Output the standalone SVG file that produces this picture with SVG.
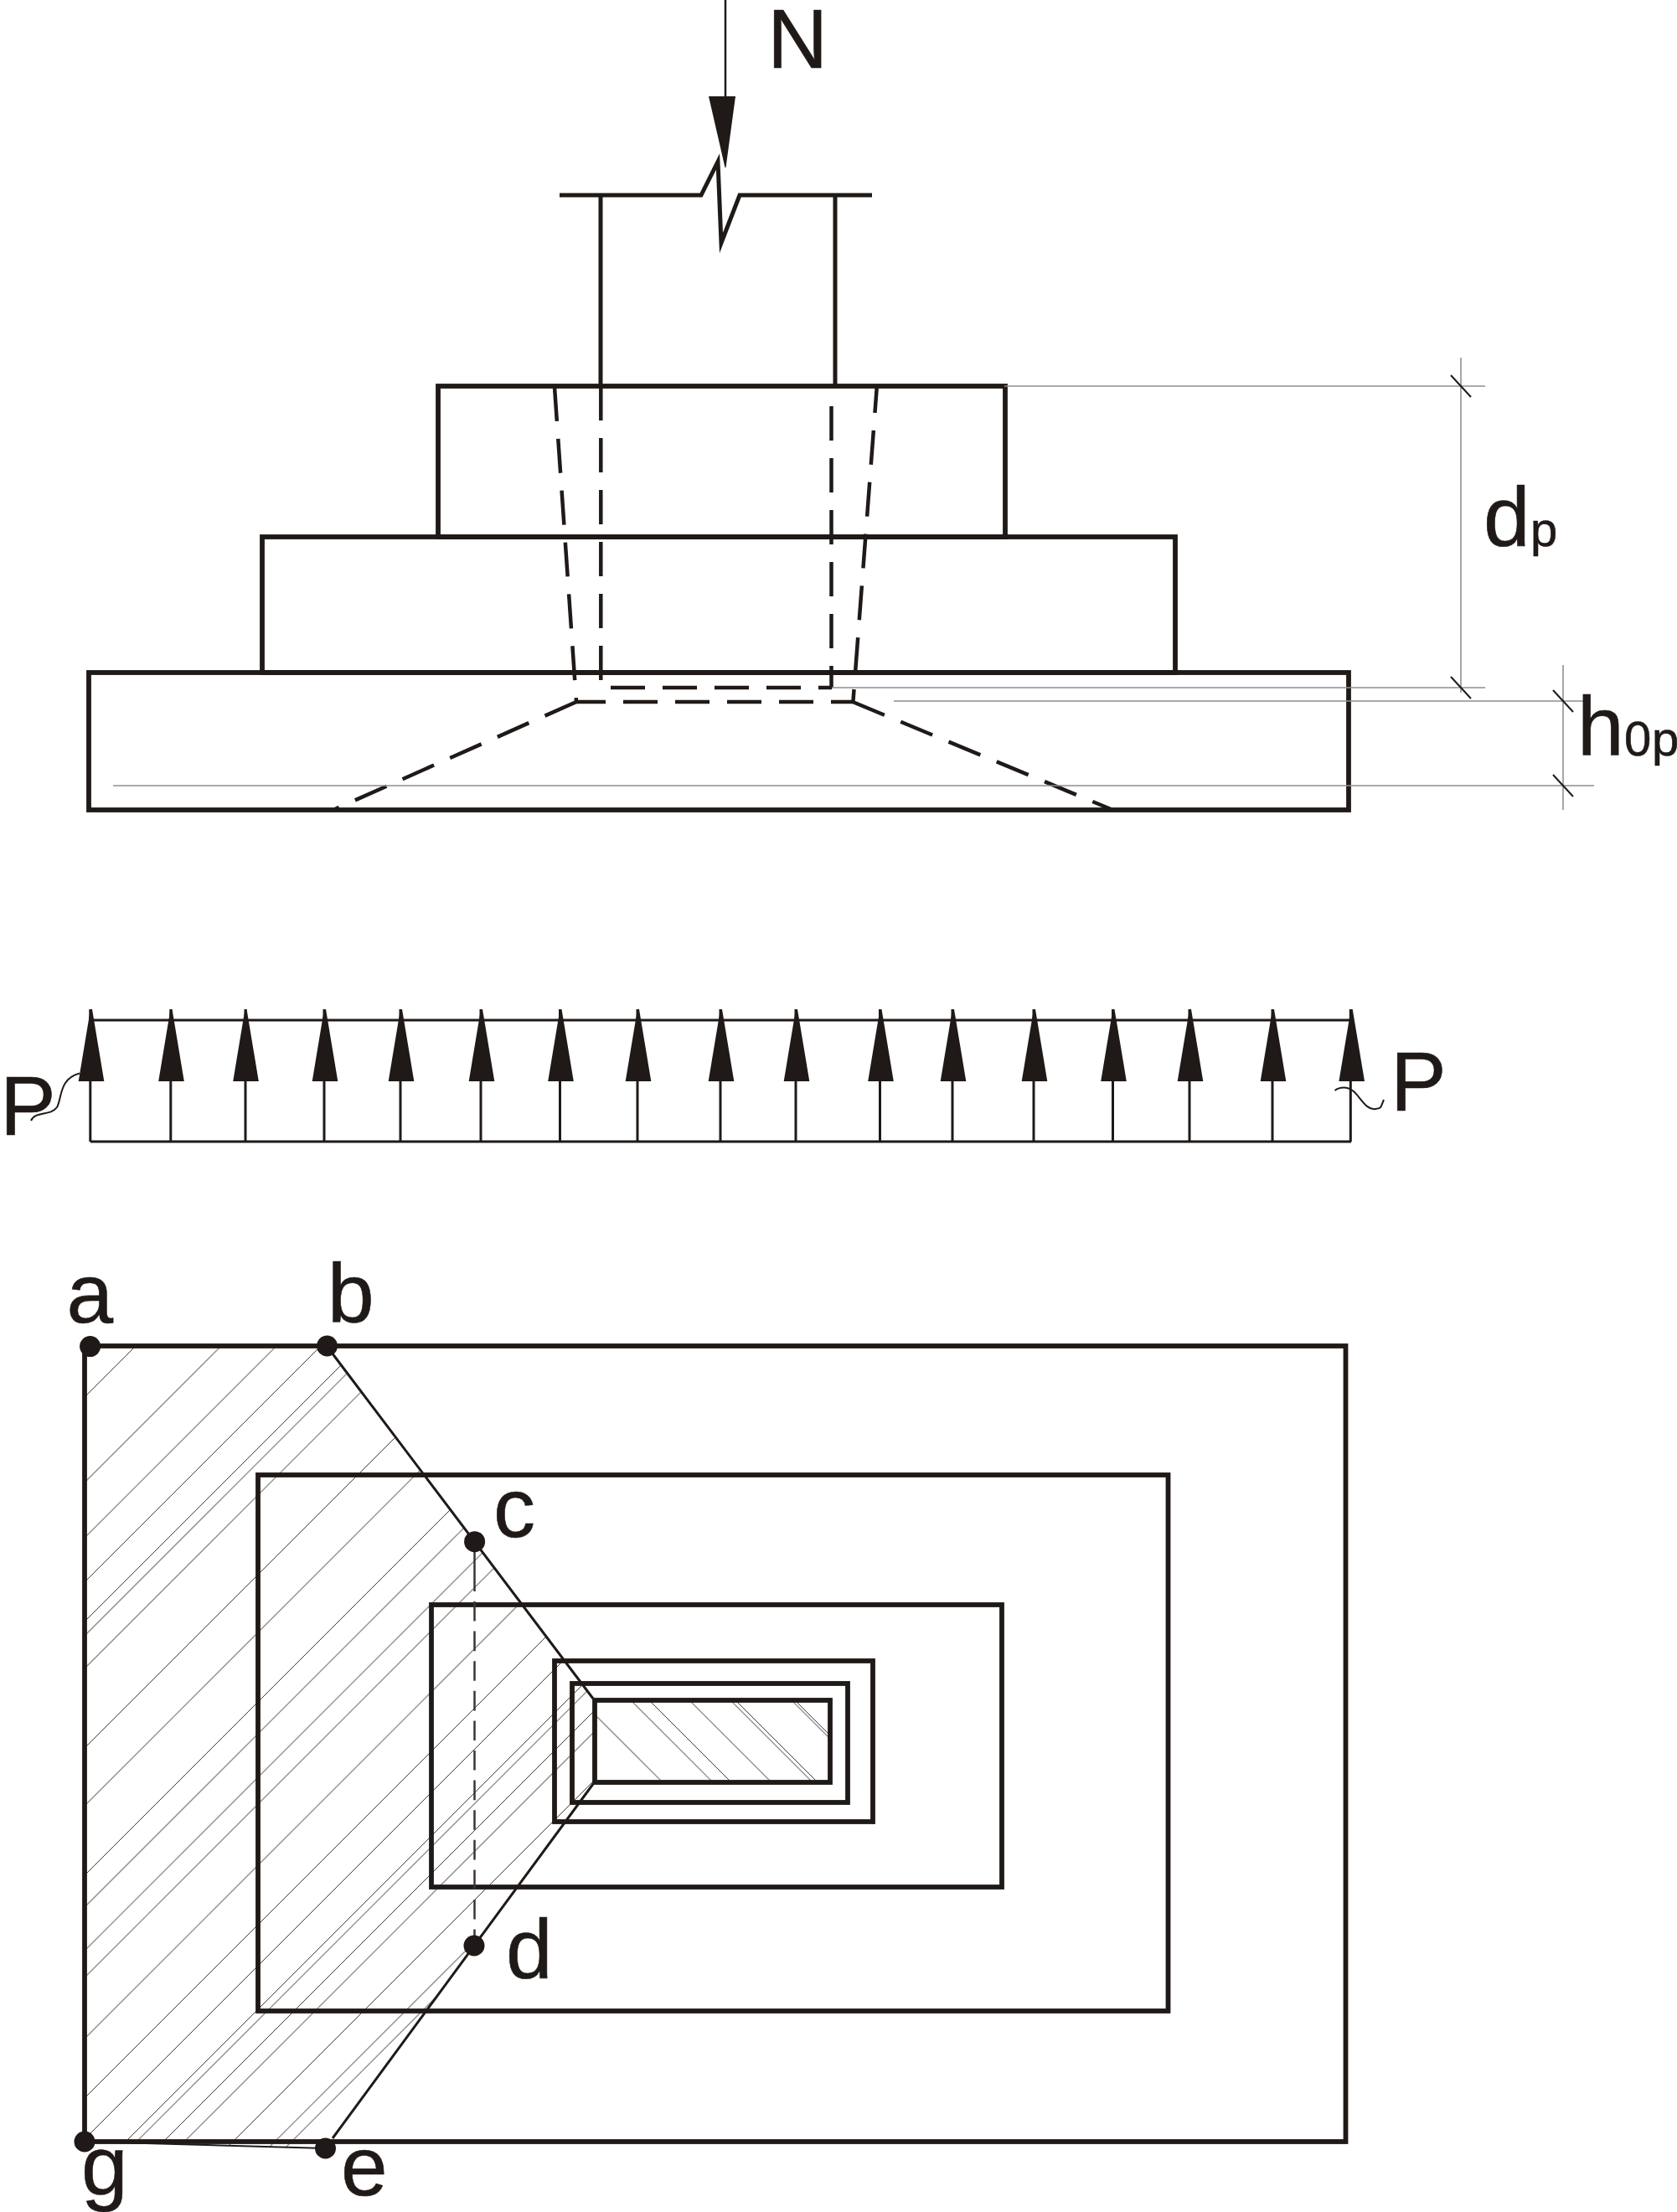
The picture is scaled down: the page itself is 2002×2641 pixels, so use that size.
<svg xmlns="http://www.w3.org/2000/svg" width="2002" height="2641" viewBox="0 0 2002 2641">
<style>
.k{fill:none;stroke:#1f1a17;stroke-width:5.8;stroke-linecap:butt;stroke-miterlimit:10}
.d{fill:none;stroke:#1f1a17;stroke-width:4.5;stroke-dasharray:41 21}
.dim{fill:none;stroke:#8f8f8f;stroke-width:1.6}
.tick{fill:none;stroke:#1f1a17;stroke-width:2}
.f{fill:#1f1a17;stroke:none}
.ar{fill:none;stroke:#1f1a17;stroke-width:3}
.h1{stroke:#2a2624;stroke-width:.9;fill:none}
.h2{stroke:#8c8c8c;stroke-width:1.3;fill:none}
.l{font-family:"Liberation Sans",Arial,sans-serif;font-size:100px;fill:#1f1a17;stroke:#1f1a17;stroke-width:.6}
.s{font-size:58px}
</style>
<defs>
<clipPath id="cpWedge"><polygon points="101,1607 390,1607 708,2028 708,2130 397,2553 388,2565 101,2557"/></clipPath>
<clipPath id="cpCore"><rect x="710" y="2030" width="281" height="98"/></clipPath>
<polygon id="up" points="-15.3,86 15.3,86 1,0 -1,0"/>
</defs>
<rect width="2002" height="2641" fill="#fff"/>

<g id="elevation">
<path class="k" d="M668,233H837L857,193L861,290L883,233H1041" style="stroke-width:5"/>
<path class="k" d="M717,233V461M997,233V461" style="stroke-width:5"/>
<rect class="k" x="523" y="461" width="677" height="180"/>
<rect class="k" x="313" y="641" width="1090" height="162"/>
<rect class="k" x="106" y="803" width="1504" height="164"/>
<line class="d" x1="662" y1="462" x2="688" y2="838"/>
<line class="d" x1="717.3" y1="461" x2="717.3" y2="812"/>
<line class="d" x1="992.5" y1="485" x2="992.5" y2="821"/>
<line class="d" x1="1046.7" y1="463" x2="1018.4" y2="838" stroke-dashoffset="11"/>
<line class="d" x1="993" y1="821" x2="729" y2="821" stroke-dashoffset="25"/>
<line class="d" x1="688" y1="838" x2="1018" y2="838" stroke-dashoffset="6"/>
<line class="d" x1="688" y1="838" x2="400" y2="966"/>
<line class="d" x1="1018" y1="838" x2="1326" y2="966"/>
</g>

<g id="dimensions">
<path class="dim" d="M1199,461H1773M993,821H1773M1067,837H1892M135,938H1903M1744,427V827M1866,794V967"/>
<path class="tick" d="M1732,448L1756,474M1732,808L1756,834M1854,824L1878,850M1854,925L1878,951"/>
</g>

<g id="pressure">
<path class="ar" d="M107.8,1218H1613M107.8,1363H1613"/>
<g class="ar">
<path d="M107.8,1205V1363M203.8,1205V1363M293,1205V1363M387,1205V1363M478,1205V1363M574,1205V1363M668.5,1205V1363M761,1205V1363M860,1205V1363M950,1205V1363M1050.500,1205V1363M1137,1205V1363M1234,1205V1363M1328.500,1205V1363M1420,1205V1363M1519,1205V1363M1612.3,1205V1363"/>
</g>
<g class="f">
<use href="#up" x="109" y="1205"/><use href="#up" x="204.5" y="1205"/><use href="#up" x="293.5" y="1205"/><use href="#up" x="388" y="1205"/><use href="#up" x="479" y="1205"/><use href="#up" x="575" y="1205"/><use href="#up" x="669.5" y="1205"/><use href="#up" x="762" y="1205"/><use href="#up" x="861" y="1205"/><use href="#up" x="951" y="1205"/><use href="#up" x="1051.500" y="1205"/><use href="#up" x="1138" y="1205"/><use href="#up" x="1235" y="1205"/><use href="#up" x="1329.500" y="1205"/><use href="#up" x="1421" y="1205"/><use href="#up" x="1520" y="1205"/><use href="#up" x="1613.7" y="1205"/>
</g>
<path class="tick" d="M37,1338C42,1326 60,1333 68,1322C74,1312 70,1288 95,1281.5"/>
<path class="tick" d="M1593.5,1302C1600,1297 1610,1297 1617,1304C1625,1312 1632,1326 1642,1324C1650,1323 1648,1322 1652,1313"/>
</g>

<g id="plan-hatch">
<g clip-path="url(#cpWedge)">
<path class="h1" d="M0,1769L1000,769M0,1990L1000,990M0,2037L1000,1037M0,2188L1000,1188M0,2340L1000,1340M0,2606L1000,1606M0,2655L1000,1655M0,2707L1000,1707M0,2752L1000,1752M0,2835L1000,1835"/>
<path class="h2" d="M0,1871L1000,871M0,1937L1000,937M0,2054L1000,1054M0,2093L1000,1093M0,2257L1000,1257M0,2378L1000,1378M0,2430L1000,1430M0,2462L1000,1462M0,2535L1000,1535M0,2720L1000,1720M0,2777L1000,1777M0,2885L1000,1885M0,2905L1000,1905"/>
</g>
<g clip-path="url(#cpCore)">
<path class="h2" d="M700,2037L1000,2337M700,1977L1000,2277M700,1907L1000,2207M700,1858L1000,2158M700,1785L1000,2085"/>
<path class="h1" d="M700,1955L1000,2255M700,1852L1000,2152M700,1781L1000,2081"/>
</g>
</g>

<g id="plan-rects">
<rect class="k" x="101" y="1607" width="1505.500" height="950"/>
<rect class="k" x="308" y="1761" width="1086.500" height="640"/>
<rect class="k" x="515" y="1916" width="681" height="337"/>
<rect class="k" x="662" y="1983" width="380" height="192"/>
<rect class="k" x="683" y="2010" width="329" height="142"/>
<rect class="k" x="710" y="2030" width="281" height="98"/>
</g>

<g id="connectors">
<line x1="866" y1="0" x2="866" y2="116" stroke="#1f1a17" stroke-width="2.500"/>
<polygon class="f" points="846,115 878,115 866.500,200 865.500,200"/>
<path class="ar" d="M390,1607L708,2028M708,2130L397,2553"/>
<line x1="101" y1="2557" x2="388" y2="2565" stroke="#1f1a17" stroke-width="2"/>
<line x1="566.500" y1="1841" x2="566.500" y2="1900" stroke="#3a3634" stroke-width="2.500"/>
<line x1="566.500" y1="1912" x2="566.500" y2="2323" stroke="#3a3634" stroke-width="2.500" stroke-dasharray="23.600 12"/>
</g>

<g id="point-a"><circle class="f" cx="107.600" cy="1607.600" r="12.500"/><text class="l" x="79.500" y="1579">a</text></g>
<g id="point-b"><circle class="f" cx="390.500" cy="1607" r="12.500"/><text class="l" x="391" y="1579">b</text></g>
<g id="point-c"><circle class="f" cx="566.600" cy="1840.700" r="12.500"/><text class="l" x="589" y="1835">c</text></g>
<g id="point-d"><circle class="f" cx="566" cy="2323" r="12.500"/><text class="l" x="604" y="2362">d</text></g>
<g id="point-e"><circle class="f" cx="388.500" cy="2565" r="12.500"/><text class="l" x="407" y="2621">e</text></g>
<g id="point-g"><circle class="f" cx="101" cy="2557" r="12.500"/><text class="l" x="97" y="2620">g</text></g>

<g id="labels">
<text class="l" x="916" y="81">N</text>
<text class="l" x="1771" y="652">d<tspan class="s" x="1827">p</tspan></text>
<text class="l" x="1883" y="902">h<tspan class="s" x="1939">0</tspan><tspan class="s" x="1972">p</tspan></text>
<text class="l" x="0" y="1355">P</text>
<text class="l" x="1660" y="1326">P</text>
</g>
</svg>
